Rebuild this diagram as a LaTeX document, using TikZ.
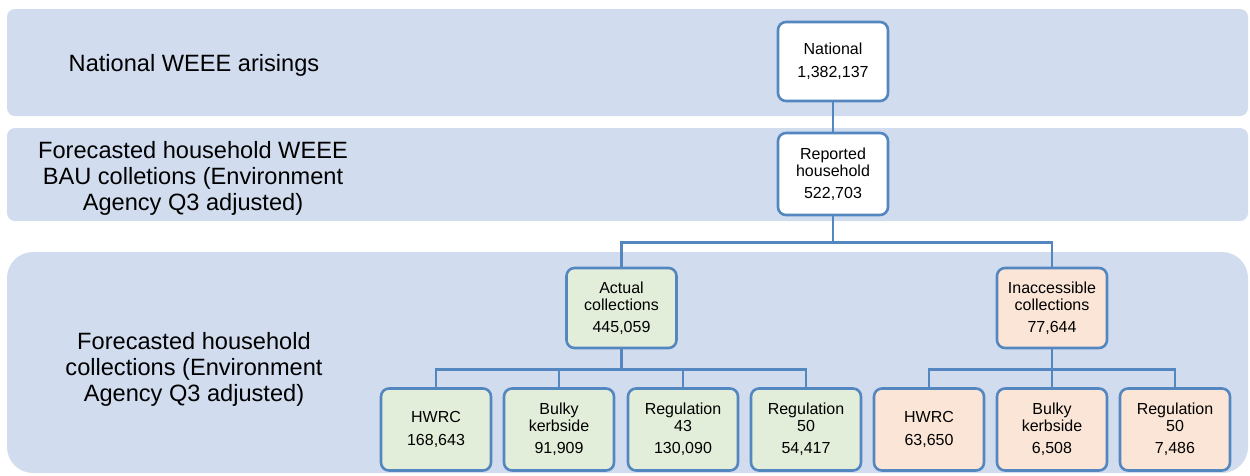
\documentclass[tikz,border=0pt]{standalone}
\usepackage{fontspec}
\setmainfont{Liberation Sans}
\definecolor{bandc}{RGB}{209,220,238}
\definecolor{linec}{RGB}{84,135,192}
\definecolor{greenc}{RGB}{227,238,218}
\definecolor{orangec}{RGB}{251,229,214}
\begin{document}
\begin{tikzpicture}[x=1pt,y=-1pt,
  band/.style={fill=bandc, draw=none, inner sep=0pt},
  box/.style={draw=linec, line width=2.6pt, rounded corners=8pt, minimum width=110pt, minimum height=80pt, inner sep=0pt, align=center, font=\fontsize{16}{16.8}\selectfont},
  wbox/.style={box, fill=white},
  gbox/.style={box, fill=greenc},
  obox/.style={box, fill=orangec},
  conn/.style={draw=linec, line width=2.6pt},
  bandlabel/.style={align=center, font=\fontsize{23.6}{26}\selectfont, inner sep=0pt}]
\useasboundingbox (0,0) rectangle (1250,475);
% bands
\node[band, rounded corners=8pt, minimum width=1241pt, minimum height=107pt] (band1) at (627.5,62.5) {};
\node[band, rounded corners=8pt, minimum width=1241pt, minimum height=93pt] (band2) at (627.5,174.5) {};
\node[band, rounded corners=26pt, minimum width=1241pt, minimum height=221pt] (band3) at (627.5,362.5) {};
% band labels
\node[bandlabel] (l1) at (194,65) {National WEEE arisings};
\node[bandlabel] (l2) at (193,178) {Forecasted household WEEE\\BAU colletions (Environment\\Agency Q3 adjusted)};
\node[bandlabel] (l3) at (194,369) {Forecasted household\\collections (Environment\\Agency Q3 adjusted)};
% boxes
\node[wbox, minimum height=79pt] (nat) at (833,61.5) {National\\[6.5pt]1,382,137};
\node[wbox, minimum height=82pt] (rep) at (833,174) {Reported\\household\\[5pt]522,703};
\node[gbox] (act) at (621.5,308) {Actual\\collections\\[5pt]445,059};
\node[obox] (ina) at (1052,308) {Inaccessible\\collections\\[5pt]77,644};
\node[gbox, minimum height=82pt] (a1) at (436,429.5) {HWRC\\[6pt]168,643};
\node[gbox, minimum height=82pt] (a2) at (559,429.5) {Bulky\\kerbside\\[5pt]91,909};
\node[gbox, minimum height=82pt] (a3) at (683,429.5) {Regulation\\43\\[5pt]130,090};
\node[gbox, minimum height=82pt] (a4) at (806,429.5) {Regulation\\50\\[5pt]54,417};
\node[obox, minimum height=82pt] (b1) at (929,429.5) {HWRC\\[6pt]63,650};
\node[obox, minimum height=82pt] (b2) at (1052,429.5) {Bulky\\kerbside\\[5pt]6,508};
\node[obox, minimum height=82pt] (b3) at (1175,429.5) {Regulation\\50\\[5pt]7,486};
% connectors
\draw[conn] (nat.south) -- (rep.north);
\draw[conn] (rep.south) -- ++(0,26) coordinate (bus1) -| (act.north);
\draw[conn] (bus1) -| (ina.north);
\draw[conn] (act.south) -- ++(0,20) coordinate (bus2);
\foreach \n in {a1,a2,a3,a4} \draw[conn] (bus2) -| (\n.north);
\draw[conn] (ina.south) -- ++(0,20) coordinate (bus3);
\foreach \n in {b1,b2,b3} \draw[conn] (bus3) -| (\n.north);
\end{tikzpicture}
\end{document}
